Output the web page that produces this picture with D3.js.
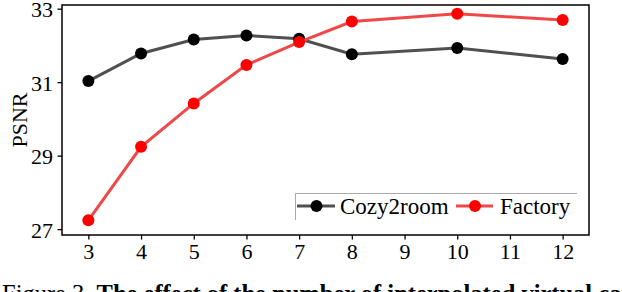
<!DOCTYPE html>
<html><head><meta charset="utf-8">
<script src="https://cdn.jsdelivr.net/npm/d3@7"></script>
<style>body{margin:0;background:#fff}svg{display:block}</style>
</head><body><svg id="c" width="622" height="292" font-family="Liberation Serif, serif"></svg>
<script>
const xValues = [3,4,5,6,7,8,10,12];
const cozy2room = [31.03,31.78,32.16,32.27,32.18,31.76,31.93,31.63];
const factory = [27.24,29.24,30.42,31.47,32.09,32.65,32.86,32.69];
const xTicks = [3,4,5,6,7,8,9,10,11,12];
const yTicks = [27,29,31,33];
const seriesNames = ["Cozy2room","Factory"];

const FONT = "Liberation Serif, serif";
const svg = d3.select("#c");
const L=62,R=589,T=5,B=235;
const x = d3.scaleLinear().domain([2.5,12.5]).range([L,R]);
const y = d3.scaleLinear().domain([26.84,33.1]).range([B,T]);

const gx = svg.append("g").attr("transform",`translate(0,${B})`)
  .call(d3.axisBottom(x).tickValues(xTicks).tickSize(4.5).tickPadding(3.5).tickFormat(d3.format("d")));
const gy = svg.append("g").attr("transform",`translate(${L},0)`)
  .call(d3.axisLeft(y).tickValues(yTicks).tickSize(4.5).tickPadding(4.5).tickFormat(d3.format("d")));
[gx,gy].forEach(g=>{
  g.attr("font-family",FONT).attr("font-size",22);
  g.select(".domain").remove();
  g.selectAll("line").attr("stroke","#000").attr("stroke-width",1.3);
  g.selectAll("text").attr("fill","#000");
});
gy.selectAll("text").attr("dy","0.36em");
svg.append("rect").attr("x",L).attr("y",T).attr("width",R-L).attr("height",B-T)
  .attr("fill","none").attr("stroke","#000").attr("stroke-width",1.5);

svg.append("text").attr("transform",`translate(27,${(T+B)/2}) rotate(-90)`)
  .attr("text-anchor","middle").attr("font-family",FONT).attr("font-size",22).text("PSNR");

const series=[{name:seriesNames[0],vals:cozy2room,line:"#505050",dot:"#000"},
              {name:seriesNames[1],vals:factory,line:"#f04848",dot:"#ff0000"}];
const line=d3.line().x(d=>x(d[0])).y(d=>y(d[1]));
series.forEach(s=>{
  const pts=xValues.map((v,i)=>[v,s.vals[i]]);
  svg.append("path").datum(pts).attr("d",line).attr("fill","none").attr("stroke",s.line).attr("stroke-width",3);
  svg.selectAll(null).data(pts).enter().append("circle")
    .attr("cx",d=>x(d[0])).attr("cy",d=>y(d[1])).attr("r",6).attr("fill",s.dot);
});

// legend
const lg=svg.append("g");
lg.append("line").attr("x1",295.5).attr("x2",577).attr("y1",193.5).attr("y2",193.5).attr("stroke","#aaa");
lg.append("line").attr("x1",295.5).attr("x2",295.5).attr("y1",193.5).attr("y2",220).attr("stroke","#aaa");
const lpos=[{x0:297,x1:335,m:316.5,tx:340},{x0:456,x1:493,m:475,tx:500}];
series.forEach((s,i)=>{
  const p=lpos[i], ly=206;
  lg.append("line").attr("x1",p.x0).attr("x2",p.x1).attr("y1",ly).attr("y2",ly).attr("stroke",s.line).attr("stroke-width",3);
  lg.append("circle").attr("cx",p.m).attr("cy",ly).attr("r",6).attr("fill",s.dot);
  lg.append("text").attr("x",p.tx).attr("y",ly+8).attr("font-family",FONT).attr("font-size",23).text(s.name);
});

// caption (partially visible, as in the reference)
const cap=svg.append("text").attr("x",2).attr("y",302).attr("font-family",FONT).attr("font-size",24.5);
cap.append("tspan").text("Figure 3. ");
cap.append("tspan").attr("font-weight","bold").text("The effect of the number of interpolated virtual cameras");
</script></body></html>
